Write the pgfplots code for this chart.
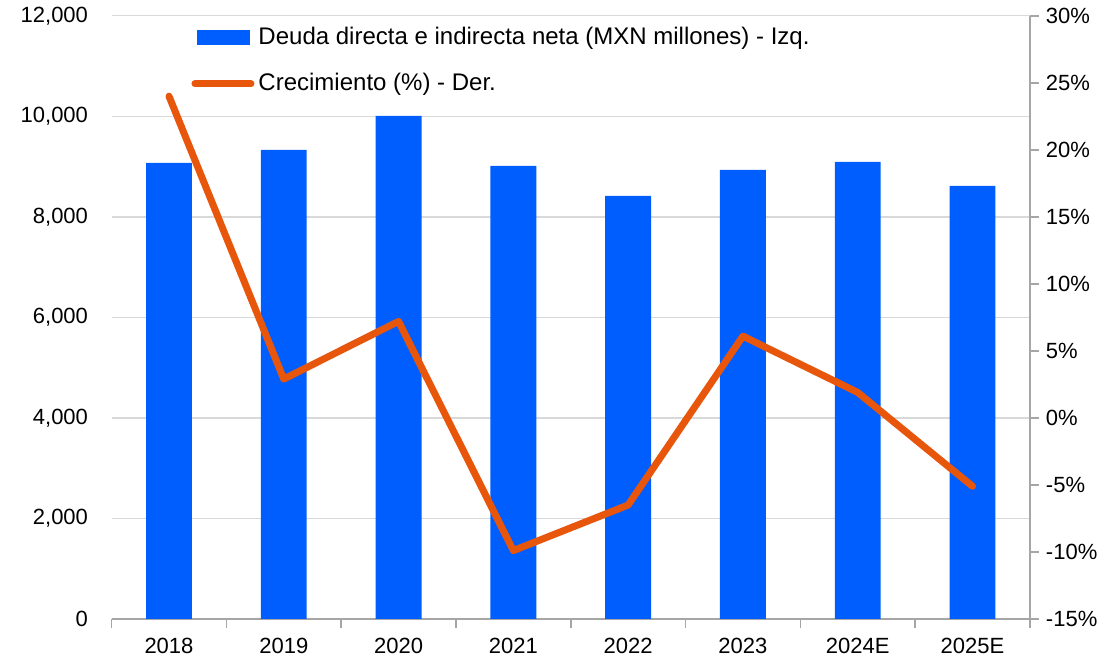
\documentclass[border=0pt]{standalone}
\usepackage{pgfplots}
\pgfplotsset{compat=1.18}
\usepackage{fontspec}
\setmainfont{Liberation Sans}
\definecolor{barblue}{RGB}{0,94,255}
\definecolor{lineorange}{RGB}{232,86,12}
\definecolor{gridgray}{RGB}{217,217,217}
\definecolor{axgray}{RGB}{166,166,166}
\begin{document}
\begin{tikzpicture}
\pgfplotsset{
  every axis/.append style={
    scale only axis, width=459pt, height=301.5pt,
    xmin=-0.5, xmax=7.5,
    font=\fontsize{11}{13}\selectfont,
    /pgf/number format/assume math mode=true,
    tick align=outside,
    scaled y ticks=false,
  },
}
\begin{axis}[
  ymin=0, ymax=12000,
  ytick={0,2000,...,12000},
  ymajorgrids, grid style={gridgray, line width=0.7pt},
  axis x line*=bottom, axis y line*=left,
  y axis line style={draw=none},
  ytick style={draw=none},
  yticklabel style={xshift=-4pt},
  x axis line style={axgray, line width=0.8pt, -},
  xtick={0,...,7},
  xticklabels={2018,2019,2020,2021,2022,2023,2024E,2025E},
  xticklabel style={yshift=-2pt},
  major x tick style={draw=none},
  minor xtick={-0.5,0.5,...,7.5},
  minor x tick style={axgray, line width=0.8pt},
  minor tick length=4.5pt,
  yticklabel={\pgfmathprintnumber[fixed,precision=0,1000 sep={,}]{\tick}},
]
\addplot[ybar, bar width=0.4, fill=barblue, draw=none] coordinates {
  (0,9075) (1,9333) (2,10010) (3,9015) (4,8418) (5,8935) (6,9095) (7,8617)
};
\end{axis}
\begin{axis}[
  ymin=-15, ymax=30,
  ytick={-15,-10,...,30},
  yticklabel={\pgfmathprintnumber{\tick}\%},
  axis x line=none, axis y line*=right,
  y axis line style={axgray, line width=0.8pt, -},
  ytick style={axgray, line width=0.8pt},
  major tick length=4.5pt,
  legend cell align=left,
  legend style={draw=none, fill=none, at={(axis description cs:0.08,0.995)}, anchor=north west,
    row sep=9pt, font=\fontsize{12}{14}\selectfont},
  legend image post style={},
]
\addlegendimage{legend image code/.code={\fill[barblue] (0pt,-3.5pt) rectangle (26pt,3.5pt);}}
\addlegendentry{Deuda directa e indirecta neta (MXN millones) - Izq.}
\addplot[lineorange, line width=3.5pt, line cap=round, line join=round,
  legend image code/.code={\draw[lineorange, line width=3.5pt, line cap=round] (-1pt,0pt) -- (27pt,0pt);}]
  coordinates {
  (0,24.0) (1,2.9) (2,7.2) (3,-9.9) (4,-6.5) (5,6.1) (6,1.9) (7,-5.1)
};
\addlegendentry{Crecimiento (\%) - Der.}
\end{axis}
\path (current bounding box.south west) ++(-7pt,0pt);
\end{tikzpicture}
\end{document}
